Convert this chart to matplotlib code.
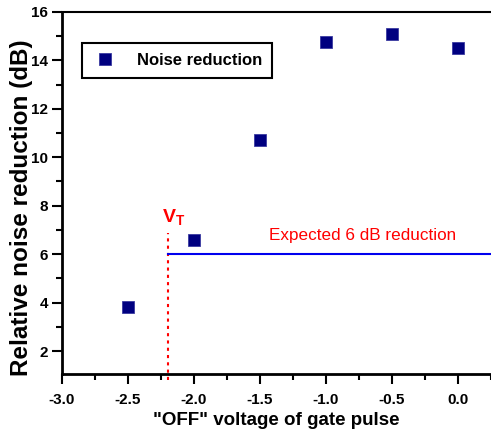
import matplotlib
matplotlib.use("Agg")
import matplotlib.pyplot as plt
from matplotlib.ticker import MultipleLocator

plt.rcParams['font.family'] = ['Liberation Sans', 'DejaVu Sans']

# data
voltage = [-2.5, -2.0, -1.5, -1.0, -0.5, 0.0]
noise_red = [3.82, 6.6, 10.7, 14.78, 15.08, 14.52]
v_threshold = -2.2
expected_db = 6.0

fig = plt.figure(figsize=(4.91, 4.34), dpi=100)
ax = fig.add_axes([0.1263, 0.1382, 0.8737, 0.8342])

ax.plot(voltage, noise_red, 's', color='#000080', markersize=8.3,
        markeredgecolor='#3a3aa0', markeredgewidth=0.6, label='Noise reduction')

# threshold marker and expected reduction line
ax.plot([v_threshold, v_threshold], [0.8, 6.87], color='red', lw=1.5,
        linestyle=(0, (1.5, 2)), clip_on=False)
ax.plot([v_threshold, 0.3], [expected_db, expected_db], '-', color='#0000ee', lw=1.5)
ax.text(v_threshold + 0.045, 7.1, r'V$_\mathregular{T}$', color='red',
        fontsize=14, fontweight='bold', ha='center', va='bottom')
ax.text(-0.72, 6.75, 'Expected 6 dB reduction', color='red', fontsize=12.3,
        ha='center', va='center')

ax.set_xlim(-3.0, 0.25)
ax.set_ylim(1.05, 16)
ax.xaxis.set_minor_locator(MultipleLocator(0.25))
ax.yaxis.set_minor_locator(MultipleLocator(1))
ax.set_yticks([2, 4, 6, 8, 10, 12, 14, 16])
ax.set_xticks([-3.0, -2.5, -2.0, -1.5, -1.0, -0.5, 0.0])
ax.set_xticklabels(['-3.0', '-2.5', '-2.0', '-1.5', '-1.0', '-0.5', '0.0'])

ax.tick_params(which='major', direction='out', length=7, width=1.5,
               labelsize=11)
ax.tick_params(axis='x', which='major', pad=7)
ax.tick_params(axis='y', which='major', pad=3)
ax.tick_params(which='minor', direction='out', length=4, width=1.5)
for lab in ax.get_xticklabels() + ax.get_yticklabels():
    lab.set_fontweight('bold')

ax.spines['right'].set_visible(False)
ax.spines['left'].set_linewidth(2)
ax.spines['bottom'].set_linewidth(2)
ax.spines['top'].set_linewidth(1.5)

ax.set_xlabel('"OFF" voltage of gate pulse', fontsize=13.5, fontweight='bold',
              labelpad=3)
ax.set_ylabel('Relative noise reduction (dB)', fontsize=17.5, fontweight='bold')
ax.yaxis.set_label_coords(-0.068, 0.46)

leg = ax.legend(loc='upper left', bbox_to_anchor=(0.047, 0.914), fancybox=False,
                edgecolor='black', framealpha=1, handletextpad=1.2,
                borderpad=0.6, borderaxespad=0, prop={'weight': 'bold', 'size': 12},
                handlelength=1.5)
leg.get_frame().set_linewidth(1.5)

fig.savefig('out.png', dpi=100)
